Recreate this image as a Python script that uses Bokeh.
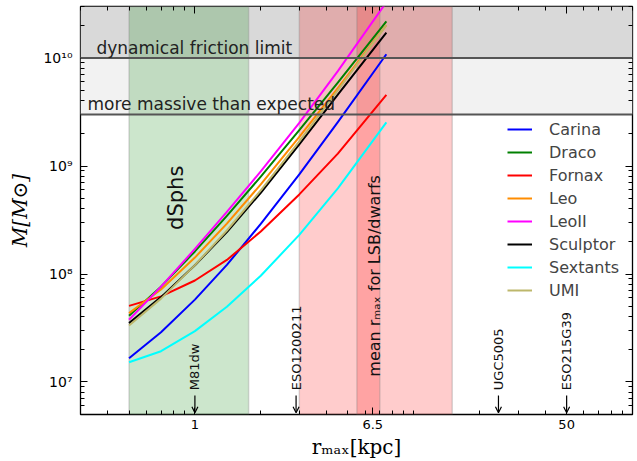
import numpy as np
from math import pi
from bokeh.plotting import figure
from bokeh.models import (BoxAnnotation, Span, Label, Arrow, OpenHead, Legend, LegendItem,
                          FixedTicker, LogAxis)
from bokeh.embed import file_html
from bokeh.resources import INLINE

# ---------------- data ----------------
r_max = [0.5, 0.7, 1.0, 1.4, 2.0, 3.0, 4.5, 7.5]          # kpc
# log10 of enclosed mass [M_sun]
carina_logM   = [7.22, 7.461, 7.763, 8.084, 8.464, 8.922, 9.406, 10.035]
draco_logM    = [7.613, 7.883, 8.209, 8.538, 8.902, 9.333, 9.773, 10.339]
fornax_logM   = [7.705, 7.793, 7.94, 8.13, 8.394, 8.737, 9.115, 9.659]
leo_logM      = [7.638, 7.857, 8.152, 8.466, 8.83, 9.27, 9.722, 10.304]
leoii_logM    = [7.576, 7.883, 8.232, 8.575, 8.95, 9.399, 9.878, 10.517]
sculptor_logM = [7.545, 7.786, 8.081, 8.388, 8.752, 9.201, 9.662, 10.235]
sextants_logM = [7.183, 7.285, 7.471, 7.697, 7.984, 8.362, 8.793, 9.404]
umi_logM      = [7.524, 7.772, 8.082, 8.403, 8.775, 9.229, 9.701, 10.305]

series_names = ["Carina", "Draco", "Fornax", "Leo", "LeoII", "Sculptor", "Sextants", "UMI"]
series_logM = [carina_logM, draco_logM, fornax_logM, leo_logM, leoii_logM,
               sculptor_logM, sextants_logM, umi_logM]
series_colors = ["blue", "green", "red", "darkorange", "magenta", "black", "cyan", "darkkhaki"]

dyn_friction_limit = 1e10
massive_limit = 3e9
dsph_band = (0.5, 1.76)
lsb_band = (3.0, 15.0)
lsb_mean_band = (5.5, 7.0)

galaxy_names = ["M81dw", "ESO1200211", "UGC5005", "ESO215G39"]
galaxy_rmax = [1.0, 2.9, 24.4, 50.0]

x_ticks = [1, 6.5, 50]
x_tick_labels = ["1", "6.5", "50"]
y_ticks = [1e7, 1e8, 1e9, 1e10]
y_tick_labels = ["10\u2077", "10\u2078", "10\u2079", "10\u00b9\u2070"]

x_lo, x_hi = 0.3, 100
y_lo, y_hi = 5e6, 3e10

# ---------------- figure ----------------
p = figure(width=637, height=461, x_axis_type="log", y_axis_type="log",
           x_range=(x_lo, x_hi), y_range=(y_lo, y_hi),
           output_backend="svg", toolbar_location=None,
           min_border_left=80, min_border_right=5, min_border_top=6, min_border_bottom=46)
p.grid.visible = False
p.background_fill_color = "white"
p.border_fill_color = "white"
p.outline_line_color = "black"
p.outline_line_width = 1.3
p.outline_line_alpha = 1.0

# horizontal bands
p.add_layout(BoxAnnotation(bottom=dyn_friction_limit, fill_color="#d9d9d9", fill_alpha=1.0,
                           line_alpha=0, level="underlay"))
p.add_layout(BoxAnnotation(bottom=massive_limit, top=dyn_friction_limit, fill_color="#f2f2f2",
                           fill_alpha=1.0, line_alpha=0, level="underlay"))
# vertical bands
for (a, b) in [dsph_band]:
    p.add_layout(BoxAnnotation(left=a, right=b, fill_color="green", fill_alpha=0.2,
                               line_color="gray", line_alpha=0.3, line_width=1.5, level="underlay"))
for (a, b) in [lsb_band, lsb_mean_band]:
    p.add_layout(BoxAnnotation(left=a, right=b, fill_color="red", fill_alpha=0.2,
                               line_color="gray", line_alpha=0.3, line_width=1.5, level="underlay"))

# limit lines
for loc in (dyn_friction_limit, massive_limit):
    p.add_layout(Span(location=loc, dimension="width", line_color="#555555", line_width=2.2))

# curves
items = []
for name, lm, col in zip(series_names, series_logM, series_colors):
    r = p.line(r_max, 10 ** np.array(lm), line_color=col, line_width=2,
               line_join="round")
    items.append(LegendItem(label=name, renderers=[r]))

legend = Legend(items=items, location=(427, 114), background_fill_alpha=0,
                border_line_alpha=0, padding=0, margin=0, spacing=3,
                label_height=20, glyph_height=20, glyph_width=25, label_standoff=17,
                label_text_font="DejaVu Sans", label_text_font_size="16px")
p.add_layout(legend)

# texts
txt_font = "DejaVu Sans"
p.add_layout(Label(x=0.355, y=dyn_friction_limit, text="dynamical friction limit",
                   text_font=txt_font, text_font_size="17px", text_baseline="bottom",
                   text_color="#222222"))
p.add_layout(Label(x=0.323, y=massive_limit, text="more massive than expected",
                   text_font=txt_font, text_font_size="17px", text_baseline="bottom",
                   text_color="#222222"))
p.add_layout(Label(x=0.82, y=2.56e8, text="dSphs", angle=pi / 2, text_align="left",
                   text_baseline="middle", text_font=txt_font, text_font_size="21px",
                   text_color="#111111"))
p.add_layout(Label(x=6.6, y=1.12e7, text="mean r\u2098\u2090\u2093 for LSB/dwarfs", angle=pi / 2,
                   text_align="left", text_baseline="middle", text_font=txt_font,
                   text_font_size="16px", text_color="#111111"))

# galaxy arrows
for name, xg in zip(galaxy_names, galaxy_rmax):
    p.add_layout(Arrow(end=OpenHead(size=6, line_width=1.2, line_color="black"),
                       x_start=xg, y_start=y_lo * 1.5, x_end=xg, y_end=y_lo * 1.04,
                       line_width=1.2, line_color="black"))
    p.add_layout(Label(x=xg, y=y_lo * 1.68, text=name, angle=pi / 2, text_align="left",
                       text_baseline="middle", text_font=txt_font, text_font_size="13px",
                       text_color="#111111"))

# ticks / axes
x_minor = [k * 10.0 ** e for e in (-1, 0, 1) for k in range(1, 10) if x_lo <= k * 10.0 ** e <= x_hi] + [100]
y_minor = [k * 10.0 ** e for e in range(6, 11) for k in range(1, 10) if y_lo <= k * 10.0 ** e <= y_hi]
xticker = FixedTicker(ticks=x_ticks, minor_ticks=x_minor)
yticker = FixedTicker(ticks=y_ticks, minor_ticks=y_minor)

p.xaxis.ticker = xticker
p.yaxis.ticker = yticker
p.xaxis.major_label_overrides = {t: s for t, s in zip(x_ticks, x_tick_labels)}
p.yaxis.major_label_overrides = {t: s for t, s in zip(y_ticks, y_tick_labels)}

for ax in (p.xaxis[0], p.yaxis[0]):
    ax.axis_line_color = None
    ax.major_tick_in = 7
    ax.major_tick_out = 0
    ax.minor_tick_in = 4
    ax.minor_tick_out = 0
    ax.major_tick_line_color = "black"
    ax.minor_tick_line_color = "black"
    ax.major_label_text_font = "DejaVu Sans"
    ax.major_label_text_font_size = "13px"
    ax.major_label_text_color = "black"
    ax.axis_label_text_font = "DejaVu Serif"
    ax.axis_label_text_font_style = "italic"
    ax.axis_label_text_font_size = "20px"
    ax.axis_label_text_color = "black"

p.yaxis.major_label_text_font_size = "14px"
p.xaxis.axis_label = "r\u2098\u2090\u2093[kpc]"
p.xaxis.axis_label_text_font_style = "normal"
p.yaxis.axis_label = "M[M\u2299]"
p.xaxis.major_label_standoff = 5
p.xaxis.axis_label_standoff = 3
p.yaxis.major_label_standoff = 8
p.yaxis.axis_label_standoff = 8

for loc, tk in (("above", xticker), ("right", yticker)):
    ax = LogAxis(ticker=tk, major_label_text_font_size="1px", major_label_text_alpha=0,
                 major_label_standoff=0,
                 axis_line_color=None, major_tick_in=7, major_tick_out=0,
                 minor_tick_in=4, minor_tick_out=0)
    p.add_layout(ax, loc)

open("out.html", "w").write(file_html(p, INLINE))
